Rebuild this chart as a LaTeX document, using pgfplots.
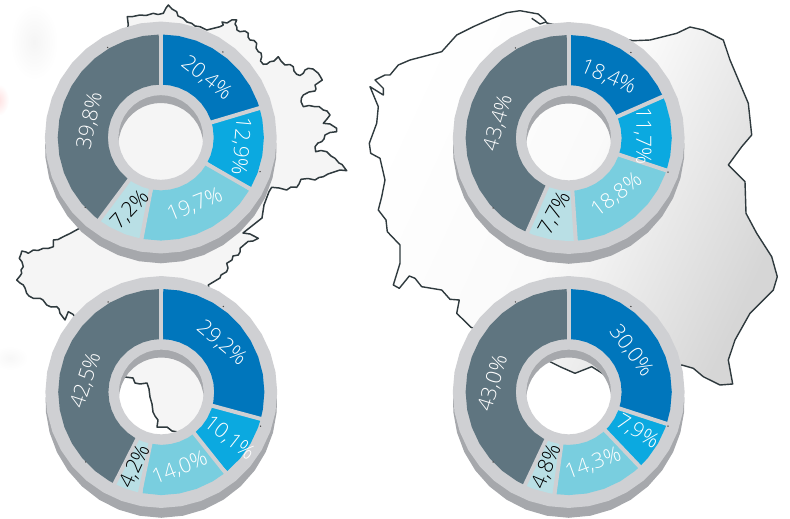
\documentclass[border=0pt]{standalone}
\usepackage{pgfplots}
\usepackage{pgfplotstable}
\usepackage{fontspec}
\setmainfont{Open Sans Light}
\pgfplotsset{compat=1.18}
\usepgfplotslibrary{polar}
\definecolor{cA}{HTML}{0076BC}
\definecolor{cB}{HTML}{0BA9E0}
\definecolor{cC}{HTML}{79CEDF}
\definecolor{cD}{HTML}{B9DFE5}
\definecolor{cE}{HTML}{5F7580}
\definecolor{face}{HTML}{CFD0D3}
\definecolor{side}{HTML}{A6A8AC}
\definecolor{mapline}{HTML}{2F3A3E}
% ring face: centre line of a thick stroke (angle, radius)
\pgfplotstableread{
a r
0 79.15
10 79.15
20 79.15
30 79.15
40 79.15
50 79.15
60 79.15
70 79.15
80 79.15
90 79.15
100 79.15
110 79.15
120 79.15
130 79.15
140 79.15
150 79.15
160 79.15
170 79.15
180 79.15
190 79.15
200 79.15
210 79.15
220 79.15
230 79.15
240 79.15
250 79.15
260 79.15
270 79.15
280 79.15
290 79.15
300 79.15
310 79.15
320 79.15
330 79.15
340 79.15
350 79.15
360 79.15
370 79.15
}\ringface
% outer side of the disc
\pgfplotstableread{
a r
-2.5 115.8
-10 117.12
-20 118.84
-30 120.48
-40 121.98
-50 123.28
-60 124.35
-70 125.15
-80 125.64
-90 125.8
-100 125.64
-110 125.15
-120 124.35
-130 123.28
-140 121.98
-150 120.48
-160 118.84
-170 117.12
-177.5 115.8
-160 110
-130 110
-100 110
-70 110
-40 110
-20 110
}\sidet
% inner side seen through the hole
\pgfplotstableread{
a r
-5.4 42.5
0 41.74
10 40.37
20 39.09
30 37.93
40 36.92
50 36.06
60 35.38
70 34.89
80 34.60
90 34.5
100 34.60
110 34.89
120 35.38
130 36.06
140 36.92
150 37.93
160 39.09
170 40.37
180 41.74
185.4 42.5
170 46
140 46
110 46
80 46
50 46
20 46
}\innert
\pgfplotstableread{
a r
120.6 104.6
54 105.7
-19 105
222.8 103
}\dotst
\pgfplotsset{
  w/.style={draw=#1,line width=50pt,line join=miter,forget plot,no markers},
  gap/.style={draw=face,line width=4pt,forget plot,no markers},
  donut/.style={hide axis,x=1pt,y=1pt,xmin=-130,xmax=130,ymin=-130,ymax=130,clip=false,anchor=center,
    every axis plot/.append style={data cs=polar}},
}
\newcommand\donutbase{%
  \addplot[fill=side,draw=none,no markers] table[x=a,y=r] {\sidet};
  \addplot[fill=side,draw=none,no markers] table[x=a,y=r] {\innert};
  \addplot[draw=face,line width=73.3pt,line join=miter,no markers] table[x=a,y=r] {\ringface};
}
\newcommand\donutdots{%
  \addplot[only marks,mark=*,mark size=0.45pt,color=black!70] table[x=a,y=r] {\dotst};
}
\begin{document}
\begin{tikzpicture}
\useasboundingbox (0,0) rectangle (790pt,519pt);
\begin{axis}[at={(0pt,0pt)},anchor=south west,x=1pt,y=1pt,xmin=0,xmax=790,ymin=0,ymax=519,y dir=reverse,hide axis,clip=true]
\shade[inner color=black!4,outer color=white] (axis cs:34,42) ellipse [x radius=24pt,y radius=38pt];
\shade[inner color=red!12,outer color=white] (axis cs:-2,100) ellipse [x radius=11pt,y radius=16pt];
\shade[inner color=black!3,outer color=white] (axis cs:10,358) ellipse [x radius=18pt,y radius=12pt];
% Left map
\addplot[fill=black!4,draw=mapline,line width=1.5pt,line join=round,no markers] coordinates {
(128.3,25)(127.3,16.7)(133,16.5)(140,15)(146,15.5)(153.3,13.3)(158,14.5)(163.3,13.3)(166,8)(168.3,5)(172,9)(176.7,11.7)(178,16)(183.3,18.3)(187,22)(191.7,23.3)(195,26)(200,26.7)(206.7,30)
(220,26.7)(223.3,25)(222,22)(227,23)(231.7,20)(236.7,20)(235,24)(236.7,26.7)(237,30)(240,31.7)(245,31)(248.3,33.3)(248,37)(250,40)(254,40.5)(256.7,43.3)(256,48)(258.3,51.7)(261,53)(261.7,56.7)(260.5,61)(263.3,64.3)(267,64)(270,61.7)(274,61)(278.3,56.7)(281,61)(285,65)(290,64.5)(293.3,66.7)(294,71)(296.7,74.3)(300,75.5)(303.3,73.3)(305,70)(308.3,68.3)(313,69)(318.3,73.3)(320,76)(322.3,80)(318,83)(315,85)(316,89)(315,91)(309,92)(303.3,95)(301.5,98)(301,101.7)(303.3,106.7)(309,105.5)(315,106.7)(319,106.5)(323.3,110)(327,111)(330,115)(327,119)(323.3,123.3)(330,124)(336.7,128.3)(336.7,131.7)(330,132.5)(325,135)(324,139)(321.7,141.7)(318,143)(315,146.7)(315.7,151.7)(321,150.5)(326.7,151.7)(331,156)(335,158.3)(339,163)(342,164.5)(346.7,170.7)(340,170)(335,171.7)(328,174)(323.3,176.7)(319,177.5)(315,180)(308,178.5)(301,179.3)(299,184)(296.7,187.3)(291,187)(286.7,190)(279,188)(271.7,187.3)(269,191.7)
(264,205)(262,218)(243,233)(250,234)(258.3,238.3)(253,241)(248,241.5)(240,248.3)(240,252)(238.3,255)(233,256)(232,260)(226.7,263.3)(228,268)(226.7,271.7)(221,275)(220,278)(216.7,280)(208.3,285)
(225,392)(190,445)(178,432)(172,431)(167,427)(157,427)(158,420)(155,416)(153,412)(152,404)(150,397)(149,389)(147,383)(140,384)(135,383)(133,378)(125,377)(118,372)
(73,314.3)(68.3,311.7)(65,320)(60,313.3)(59,309)(56.7,306.7)(51,307)(46.7,305)(43,300)(40,298.3)(33.3,298.3)(29,296)(26.7,293.3)(25,288)(23.3,285)(20,283)(16.7,280)(20,276)(21.7,273.3)(21,270)(23.3,266.7)(22,262)(19.3,258.3)(21,254)(21.7,251)(26,252)(28.3,253.3)(33.3,250)(38,250.5)(43.3,248.3)(48,248.5)(53.3,246.7)(53.3,240)(58,239.5)(63.3,236.7)(70,233.5)(80,228)
} -- cycle;
% Poland
\addplot[left color=white,right color=black!16,middle color=black!2,shading angle=65,draw=mapline,line width=1.4pt,line join=round,no markers] coordinates {
(546.7,23)(545,20)(538.3,14)(520,10.7)(506.7,12.7)(490,19.3)(473.3,26.7)(456.7,35)(441.7,51.7)(410,60)(398.3,65)(390,75)(385,75)(375,80)(383.3,88.3)(383.3,95)(370,86.7)(378.3,106.7)(376.7,123.3)(369.3,143.3)(370.7,153.3)(380,158.3)(385,180)(381.7,196.7)(378.3,210)(386,220)(387.3,231.7)(400,245)(400,263.3)(393.3,285)(399.3,288.3)(409.3,276)(415,278.3)(421.7,286.7)(441.7,290)(450,299.3)(459.3,300)(456.7,313.3)(471,327.3)
(540,355)(550,361.7)(560,366.7)(575,373.3)(591.7,366.7)(605,375)(612,382)
(681.7,365)(693.3,368.3)(703.3,376.7)(720,385)(732.7,384)(728.3,360)(735,340)(750,313.3)(773.3,290)(777.3,276.7)(771.7,256.7)(756.7,233.3)(746,213.3)(745,181.7)(728.3,165)(741.7,146.7)(751.7,135)(748.3,103.3)(730,60)(723.3,40)(703.3,30)(690,27)(676.7,33.3)(650,40)(633,40.7)
} -- cycle;
\addplot[draw=mapline,line width=1.4pt,line join=round,no markers] coordinates {(531.7,18.3)(540,24)(546,22)};
\end{axis}
% Top left: 20.4 12.9 19.7 7.2 39.8
\begin{axis}[donut,at={(160.8pt,381.5pt)}]
\donutbase
\addplot[w=cA] coordinates {(90,78)(80,78)(70,78)(60,78)(50,78)(40,78)(30,78)(20,78)(16.6,78)};
\addplot[w=cB] coordinates {(16.6,78)(10,78)(0,78)(-10,78)(-20,78)(-29.9,78)};
\addplot[w=cC] coordinates {(-29.9,78)(-40,78)(-50,78)(-60,78)(-70,78)(-80,78)(-90,78)(-100,78)(-100.8,78)};
\addplot[w=cD] coordinates {(-100.8,78)(-110,78)(-120,78)(-126.72,78)};
\addplot[w=cE] coordinates {(-126.72,78)(-130,78)(-140,78)(-150,78)(-160,78)(-170,78)(-180,78)(-190,78)(-200,78)(-210,78)(-220,78)(-230,78)(-240,78)(-250,78)(-260,78)(-270,78)};
\addplot[gap] coordinates {(90,52)(90,104)};
\addplot[gap] coordinates {(16.6,52)(16.6,104)};
\addplot[gap] coordinates {(-29.9,52)(-29.9,104)};
\addplot[gap] coordinates {(-100.8,52)(-100.8,104)};
\addplot[gap] coordinates {(-126.72,52)(-126.72,104)};
\donutdots
\end{axis}
% Top right: 18.4 11.7 18.8 7.7 43.4
\begin{axis}[donut,at={(568.7pt,381pt)}]
\donutbase
\addplot[w=cA] coordinates {(90,78)(80,78)(70,78)(60,78)(50,78)(40,78)(30,78)(23.76,78)};
\addplot[w=cB] coordinates {(23.76,78)(20,78)(10,78)(0,78)(-10,78)(-18.36,78)};
\addplot[w=cC] coordinates {(-18.36,78)(-20,78)(-30,78)(-40,78)(-50,78)(-60,78)(-70,78)(-80,78)(-86.04,78)};
\addplot[w=cD] coordinates {(-86.04,78)(-90,78)(-100,78)(-110,78)(-113.76,78)};
\addplot[w=cE] coordinates {(-113.76,78)(-120,78)(-130,78)(-140,78)(-150,78)(-160,78)(-170,78)(-180,78)(-190,78)(-200,78)(-210,78)(-220,78)(-230,78)(-240,78)(-250,78)(-260,78)(-270,78)};
\addplot[gap] coordinates {(90,52)(90,104)};
\addplot[gap] coordinates {(23.76,52)(23.76,104)};
\addplot[gap] coordinates {(-18.36,52)(-18.36,104)};
\addplot[gap] coordinates {(-86.04,52)(-86.04,104)};
\addplot[gap] coordinates {(-113.76,52)(-113.76,104)};
\donutdots
\end{axis}
% Bottom left: 29.2 10.1 14.0 4.2 42.5
\begin{axis}[donut,at={(161.3pt,127pt)}]
\donutbase
\addplot[w=cA] coordinates {(90,78)(80,78)(70,78)(60,78)(50,78)(40,78)(30,78)(20,78)(10,78)(0,78)(-10,78)(-15.12,78)};
\addplot[w=cB] coordinates {(-15.12,78)(-20,78)(-30,78)(-40,78)(-51.48,78)};
\addplot[w=cC] coordinates {(-51.48,78)(-60,78)(-70,78)(-80,78)(-90,78)(-101.88,78)};
\addplot[w=cD] coordinates {(-101.88,78)(-110,78)(-117,78)};
\addplot[w=cE] coordinates {(-117,78)(-120,78)(-130,78)(-140,78)(-150,78)(-160,78)(-170,78)(-180,78)(-190,78)(-200,78)(-210,78)(-220,78)(-230,78)(-240,78)(-250,78)(-260,78)(-270,78)};
\addplot[gap] coordinates {(90,52)(90,104)};
\addplot[gap] coordinates {(-15.12,52)(-15.12,104)};
\addplot[gap] coordinates {(-51.48,52)(-51.48,104)};
\addplot[gap] coordinates {(-101.88,52)(-101.88,104)};
\addplot[gap] coordinates {(-117,52)(-117,104)};
\donutdots
\end{axis}
% Bottom right: 30.0 7.9 14.3 4.8 43.0
\begin{axis}[donut,at={(568.7pt,127pt)}]
\donutbase
\addplot[w=cA] coordinates {(90,78)(80,78)(70,78)(60,78)(50,78)(40,78)(30,78)(20,78)(10,78)(0,78)(-10,78)(-18,78)};
\addplot[w=cB] coordinates {(-18,78)(-20,78)(-30,78)(-40,78)(-46.44,78)};
\addplot[w=cC] coordinates {(-46.44,78)(-50,78)(-60,78)(-70,78)(-80,78)(-90,78)(-97.92,78)};
\addplot[w=cD] coordinates {(-97.92,78)(-100,78)(-110,78)(-115.2,78)};
\addplot[w=cE] coordinates {(-115.2,78)(-120,78)(-130,78)(-140,78)(-150,78)(-160,78)(-170,78)(-180,78)(-190,78)(-200,78)(-210,78)(-220,78)(-230,78)(-240,78)(-250,78)(-260,78)(-270,78)};
\addplot[gap] coordinates {(90,52)(90,104)};
\addplot[gap] coordinates {(-18,52)(-18,104)};
\addplot[gap] coordinates {(-46.44,52)(-46.44,104)};
\addplot[gap] coordinates {(-97.92,52)(-97.92,104)};
\addplot[gap] coordinates {(-115.2,52)(-115.2,104)};
\donutdots
\end{axis}
% Labels
\begin{axis}[at={(0pt,0pt)},anchor=south west,x=1pt,y=1pt,xmin=0,xmax=790,ymin=0,ymax=519,y dir=reverse,hide axis,clip=false,
  nodes={font=\fontsize{21}{21}\selectfont,inner sep=0pt}]
\node[white,rotate=-38] at (axis cs:206.5,78) {20,4\%};
\node[white,rotate=-95] at (axis cs:240.5,146) {12,9\%};
\node[white,rotate=22] at (axis cs:195,205) {19,7\%};
\node[black,rotate=47] at (axis cs:130,210) {7,2\%};
\node[white,rotate=78] at (axis cs:90,120.7) {39,8\%};
\node[white,rotate=-23] at (axis cs:608.3,77.3) {18,4\%};
\node[white,rotate=-90] at (axis cs:642.7,136) {11,7\%};
\node[white,rotate=37] at (axis cs:616.7,195) {18,8\%};
\node[black,rotate=62] at (axis cs:555,213.3) {7,7\%};
\node[white,rotate=74] at (axis cs:498.3,122.7) {43,4\%};
\node[white,rotate=-40] at (axis cs:221.7,343.3) {29,2\%};
\node[white,rotate=-38] at (axis cs:229.3,438.3) {10,1\%};
\node[white,rotate=21] at (axis cs:180,468.3) {14,0\%};
\node[black,rotate=65] at (axis cs:135,466.7) {4,2\%};
\node[white,rotate=72] at (axis cs:86,380.7) {42,5\%};
\node[white,rotate=-53] at (axis cs:631,351) {30,0\%};
\node[white,rotate=-31] at (axis cs:637.3,431.7) {7,9\%};
\node[white,rotate=20] at (axis cs:593.3,464) {14,3\%};
\node[black,rotate=67] at (axis cs:546.7,466.7) {4,8\%};
\node[white,rotate=73] at (axis cs:493.3,383.3) {43,0\%};
\end{axis}
\end{tikzpicture}
\end{document}
